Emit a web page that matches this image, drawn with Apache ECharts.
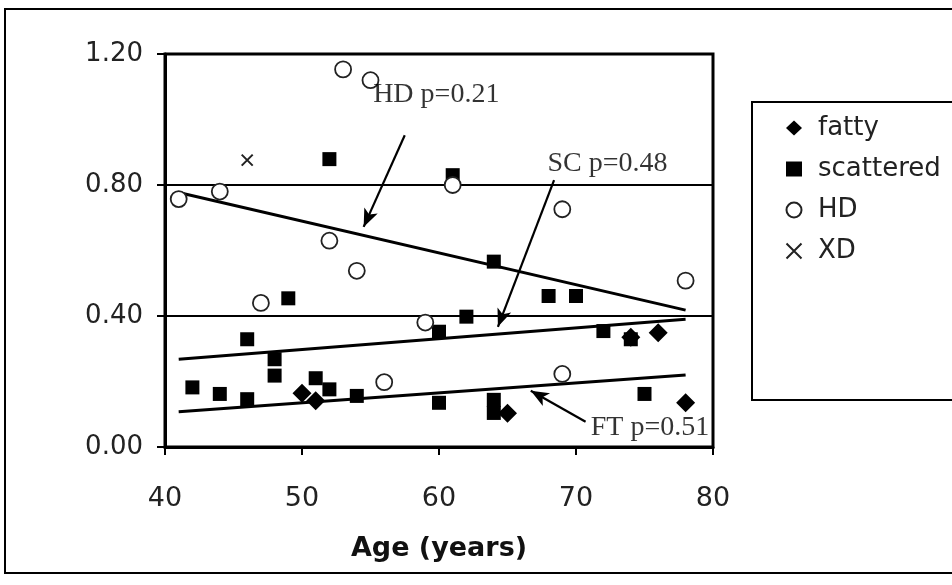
<!DOCTYPE html>
<html>
<head>
<meta charset="utf-8">
<script src="https://cdn.jsdelivr.net/npm/echarts@6/dist/echarts.min.js"></script>
<style>html,body{margin:0;padding:0;background:#fff;}#c{width:952px;height:585px;}</style>
</head>
<body>
<div id="c"></div>
<script>
const xTicks = [40, 50, 60, 70, 80];
const yTicks = [0, 0.4, 0.8, 1.2];
const fatty = [[50,0.164],[51,0.141],[65,0.103],[74,0.335],[76,0.349],[78,0.135]];
const scattered = [[42,0.182],[44,0.162],[46,0.146],[46,0.329],[48,0.268],[48,0.218],[49,0.454],[51,0.21],[52,0.176],[52,0.879],[54,0.156],[60,0.352],[60,0.135],[61,0.83],[62,0.398],[64,0.566],[64,0.144],[64,0.104],[68,0.461],[70,0.461],[72,0.354],[74,0.329],[75,0.162]];
const hd = [[41,0.757],[44,0.78],[47,0.44],[52,0.63],[53,1.153],[54,0.538],[55,1.12],[56,0.198],[59,0.38],[61,0.80],[69,0.726],[69,0.223],[78,0.508]];
const xd = [[46,0.876]];
const trendHD = [[41,0.777],[78,0.418]];
const trendSC = [[41,0.268],[78,0.39]];
const trendFT = [[41,0.108],[78,0.22]];
const notes = [[59.8,1.075,'HD p=0.21'],[72.3,0.865,'SC p=0.48'],[75.4,0.06,'FT p=0.51']];
const arrows = [
  [[57.5,0.952],[54.5,0.672]],
  [[68.4,0.815],[64.3,0.367]],
  [[70.7,0.077],[66.7,0.172]]
];

const chart = echarts.init(document.getElementById('c'), null, {renderer:'canvas'});
const X_PATH = 'path://M0,0 L10,10 M10,0 L0,10';
const trendLine = (name, d) => ({
  name, type:'line', data:d, showSymbol:false, symbol:'none', silent:true,
  lineStyle:{color:'#000', width:3}, z:3
});
chart.setOption({
  animation:false,
  backgroundColor:'#fff',
  grid:{left:165, right:239, top:54, bottom:138, show:true, borderColor:'#000', borderWidth:3},
  xAxis:{
    type:'value', min:40, max:80, interval:10,
    axisLine:{show:true, lineStyle:{color:'#000', width:3}},
    axisTick:{show:true, length:8, lineStyle:{color:'#000', width:2}},
    axisLabel:{color:'#222', fontSize:27, fontFamily:'DejaVu Sans', margin:38},
    splitLine:{show:false},
    name:'Age (years)', nameLocation:'middle', nameGap:88,
    nameTextStyle:{color:'#111', fontSize:27, fontWeight:'bold', fontFamily:'DejaVu Sans'}
  },
  yAxis:{
    type:'value', min:0, max:1.2, interval:0.4,
    axisLine:{show:true, lineStyle:{color:'#000', width:3}},
    axisTick:{show:true, length:8, lineStyle:{color:'#000', width:2}},
    axisLabel:{color:'#222', fontSize:26, fontFamily:'DejaVu Sans', margin:22,
      formatter:v=>v.toFixed(2)},
    splitLine:{show:true, lineStyle:{color:'#000', width:2}}
  },
  legend:{
    orient:'vertical', left:779, top:109, itemWidth:16, itemHeight:15, itemGap:13,
    textStyle:{color:'#222', fontSize:26, fontFamily:'DejaVu Sans', lineHeight:28, padding:[0,0,0,11]},
    data:[
      {name:'fatty', icon:'diamond'},
      {name:'scattered', icon:'rect'},
      {name:'HD', icon:'circle'},
      {name:'XD', icon:X_PATH}
    ],
    selectedMode:false
  },
  graphic:[
    {type:'rect', shape:{x:5, y:9, width:990, height:564}, style:{fill:'none', stroke:'#000', lineWidth:2}, z:-1},
    {type:'rect', shape:{x:752, y:102, width:240, height:298}, style:{fill:'none', stroke:'#000', lineWidth:2}, z:-1}
  ],
  series:[
    trendLine('trendHD', trendHD),
    trendLine('trendSC', trendSC),
    trendLine('trendFT', trendFT),
    {name:'fatty', type:'scatter', data:fatty, symbol:'diamond', symbolSize:19,
      itemStyle:{color:'#000', opacity:1}, z:5},
    {name:'scattered', type:'scatter', data:scattered, symbol:'rect', symbolSize:14,
      itemStyle:{color:'#000', opacity:1}, z:5},
    {name:'HD', type:'scatter', data:hd, symbol:'circle', symbolSize:16,
      itemStyle:{color:'#fff', borderColor:'#222', borderWidth:1.8, opacity:1}, z:5},
    {name:'XD', type:'scatter', data:xd, symbol:X_PATH, symbolSize:11,
      itemStyle:{color:'none', borderColor:'#222', borderWidth:2, opacity:1}, z:5},
    {name:'notes', type:'scatter', data:notes, symbolSize:0, silent:true, z:6,
      label:{show:true, position:'inside', formatter:p=>p.data[2],
        color:'#000', fontSize:28, fontFamily:'Liberation Serif'},
      markLine:{
        silent:true, symbol:['none','arrow'], symbolSize:[11,18],
        lineStyle:{color:'#000', width:2.2, type:'solid'},
        label:{show:false},
        data: arrows.map(a=>[{coord:a[0]},{coord:a[1]}])
      }
    }
  ]
});
</script>
</body>
</html>
